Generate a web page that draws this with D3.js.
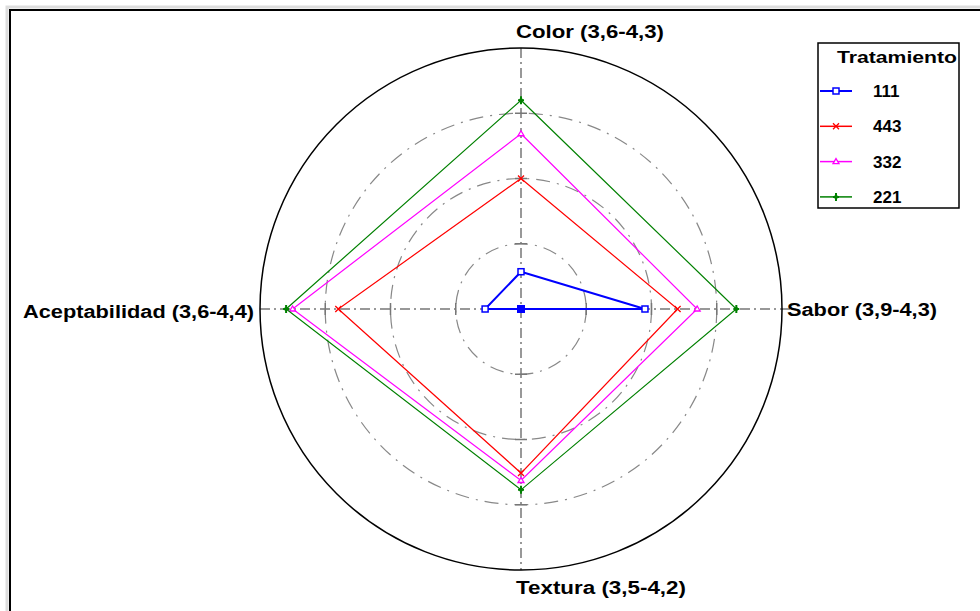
<!DOCTYPE html>
<html>
<head>
<meta charset="utf-8">
<script src="https://cdn.jsdelivr.net/npm/d3@7"></script>
<style>
  body { margin: 0; background: #fff; }
  svg { display: block; }
  text { font-family: "Liberation Sans", Arial, sans-serif; font-weight: bold; }
</style>
</head>
<body>
<div id="wrapper"></div>
<script>
// axes, clockwise from the top, with their min-max ranges
const axisNames = ["Color", "Sabor", "Textura", "Aceptabilidad"];
const axisMin = [3.6, 3.9, 3.5, 3.6];
const axisMax = [4.3, 4.3, 4.2, 4.4];
const axisLabels = ["Color (3,6-4,3)", "Sabor (3,9-4,3)", "Textura (3,5-4,2)", "Aceptabilidad (3,6-4,4)"];

// treatments
const treatments = ["111", "443", "332", "221"];
const treatmentColors = ["#0000ff", "#ff0000", "#ff00ff", "#008000"];
const values111 = [3.70, 4.09, 3.50, 3.71];
const values443 = [3.95, 4.14, 3.94, 4.16];
const values332 = [4.07, 4.17, 3.96, 4.30];
const values221 = [4.16, 4.23, 3.985, 4.32];
const seriesValues = [values111, values443, values332, values221];

function drawChart() {
  const dimensions = {
    width: 980,
    height: 611,
    cx: 521,
    cy: 309,
    radius: 261,
  };

  const svg = d3.select("#wrapper")
    .append("svg")
      .attr("width", dimensions.width)
      .attr("height", dimensions.height);

  // frame with a soft shadow
  svg.append("rect")
    .attr("x", 7).attr("y", 7)
    .attr("width", 990).attr("height", 620)
    .attr("fill", "none")
    .attr("stroke", "#ddd")
    .attr("stroke-width", 3);
  svg.append("rect")
    .attr("x", 10).attr("y", 10)
    .attr("width", 990).attr("height", 620)
    .attr("fill", "#fff")
    .attr("stroke", "#000")
    .attr("stroke-width", 2);

  const bounds = svg.append("g")
    .attr("transform", `translate(${dimensions.cx},${dimensions.cy})`);

  // one radial scale per axis
  const scales = axisNames.map((n, i) => d3.scaleLinear()
    .domain([axisMin[i], axisMax[i]])
    .range([0, dimensions.radius]));
  const angle = i => -Math.PI / 2 + i * Math.PI / 2;
  const pointOf = (v, i) => {
    const r = scales[i](v);
    return [Math.cos(angle(i)) * r, Math.sin(angle(i)) * r];
  };

  // grid rings
  const ringSteps = [0.25, 0.5, 0.75];
  bounds.selectAll(".ring")
    .data(ringSteps)
    .enter().append("circle")
      .attr("r", d => d * dimensions.radius)
      .attr("fill", "none")
      .attr("stroke", "#888")
      .attr("stroke-width", 1.2)
      .attr("stroke-dasharray", "14,7,2,7");

  // axes
  const gridGrey = "#777";
  bounds.append("line")
    .attr("x1", -dimensions.radius).attr("x2", dimensions.radius + 8)
    .attr("y1", 0).attr("y2", 0)
    .attr("stroke", gridGrey).attr("stroke-width", 1.5)
    .attr("stroke-dasharray", "10,4,2,4");
  bounds.append("line")
    .attr("x1", 0).attr("x2", 0)
    .attr("y1", -dimensions.radius).attr("y2", dimensions.radius)
    .attr("stroke", gridGrey).attr("stroke-width", 1.5)
    .attr("stroke-dasharray", "10,4,2,4");

  // small ticks where rings cross the axes
  axisNames.forEach((n, i) => {
    ringSteps.forEach(s => {
      const r = s * dimensions.radius;
      const a = angle(i);
      const x = Math.cos(a) * r, y = Math.sin(a) * r;
      const px = -Math.sin(a) * 6, py = Math.cos(a) * 6;
      bounds.append("line")
        .attr("x1", x - px).attr("y1", y - py)
        .attr("x2", x + px).attr("y2", y + py)
        .attr("stroke", gridGrey).attr("stroke-width", 1.5);
    });
  });

  // outer circle
  bounds.append("circle")
    .attr("r", dimensions.radius)
    .attr("fill", "none")
    .attr("stroke", "#000")
    .attr("stroke-width", 1.5);

  // markers
  function drawMarker(g, k, x, y, color) {
    if (k === 0) {
      g.append("rect").attr("x", x - 3).attr("y", y - 3)
        .attr("width", 6).attr("height", 6)
        .attr("fill", "#fff").attr("stroke", color).attr("stroke-width", 1.5);
    } else if (k === 1) {
      g.append("path").attr("d", `M${x-3},${y-3}L${x+3},${y+3}M${x-3},${y+3}L${x+3},${y-3}`)
        .attr("stroke", color).attr("stroke-width", 1.3);
    } else if (k === 2) {
      g.append("path").attr("d", `M${x},${y-3}L${x+3},${y+2}L${x-3},${y+2}Z`)
        .attr("fill", "#fff").attr("stroke", color).attr("stroke-width", 1.3);
    } else {
      g.append("path").attr("d", `M${x-3},${y}L${x+3},${y}M${x},${y-4}L${x},${y+4}`)
        .attr("stroke", color).attr("stroke-width", 2);
      g.append("circle").attr("cx", x).attr("cy", y).attr("r", 2).attr("fill", color);
    }
  }

  // series polygons
  const lineGen = d3.line().curve(d3.curveLinearClosed);
  seriesValues.forEach((vals, k) => {
    const pts = vals.map((v, i) => pointOf(v, i));
    const g = bounds.append("g");
    g.append("path")
      .attr("d", lineGen(pts))
      .attr("fill", "none")
      .attr("stroke", treatmentColors[k])
      .attr("stroke-width", k === 0 ? 2 : 1.2);
    pts.forEach(p => {
      if (k === 0 && Math.abs(p[0]) < 1 && Math.abs(p[1]) < 1) {
        g.append("rect").attr("x", p[0] - 4).attr("y", p[1] - 4)
          .attr("width", 8).attr("height", 8).attr("fill", treatmentColors[k]);
      } else {
        drawMarker(g, k, p[0], p[1], treatmentColors[k]);
      }
    });
  });

  // axis labels (widths stretched to match the original rendering)
  const labelPos = [
    { x: -5, y: -271, anchor: "start", w: 148 },
    { x: 266, y: 7, anchor: "start", w: 150 },
    { x: -5, y: 285, anchor: "start", w: 170 },
    { x: -267, y: 9, anchor: "end", w: 231 },
  ];
  bounds.selectAll(".axisLabel")
    .data(axisLabels)
    .enter().append("text")
      .attr("x", (d, i) => labelPos[i].x)
      .attr("y", (d, i) => labelPos[i].y)
      .attr("text-anchor", (d, i) => labelPos[i].anchor)
      .attr("textLength", (d, i) => labelPos[i].w)
      .attr("lengthAdjust", "spacingAndGlyphs")
      .style("font-size", "18px")
      .attr("fill", "#000")
      .text(d => d);

  // legend
  const legend = svg.append("g");
  legend.append("rect")
    .attr("x", 818).attr("y", 43)
    .attr("width", 141).attr("height", 165)
    .attr("fill", "#fff").attr("stroke", "#000").attr("stroke-width", 1.5);
  legend.append("text")
    .attr("x", 837).attr("y", 63)
    .attr("textLength", 120)
    .attr("lengthAdjust", "spacingAndGlyphs")
    .style("font-size", "17px")
    .text("Tratamiento");
  treatments.forEach((t, k) => {
    const y = 91 + k * 35.3;
    legend.append("line")
      .attr("x1", 820).attr("x2", 852)
      .attr("y1", y).attr("y2", y)
      .attr("stroke", treatmentColors[k]).attr("stroke-width", k === 0 ? 2 : 1.5);
    drawMarker(legend, k, 836, y, treatmentColors[k]);
    legend.append("text")
      .attr("x", 873).attr("y", y + 6)
      .style("font-size", "17px")
      .text(t);
  });
}
drawChart();
</script>
</body>
</html>
